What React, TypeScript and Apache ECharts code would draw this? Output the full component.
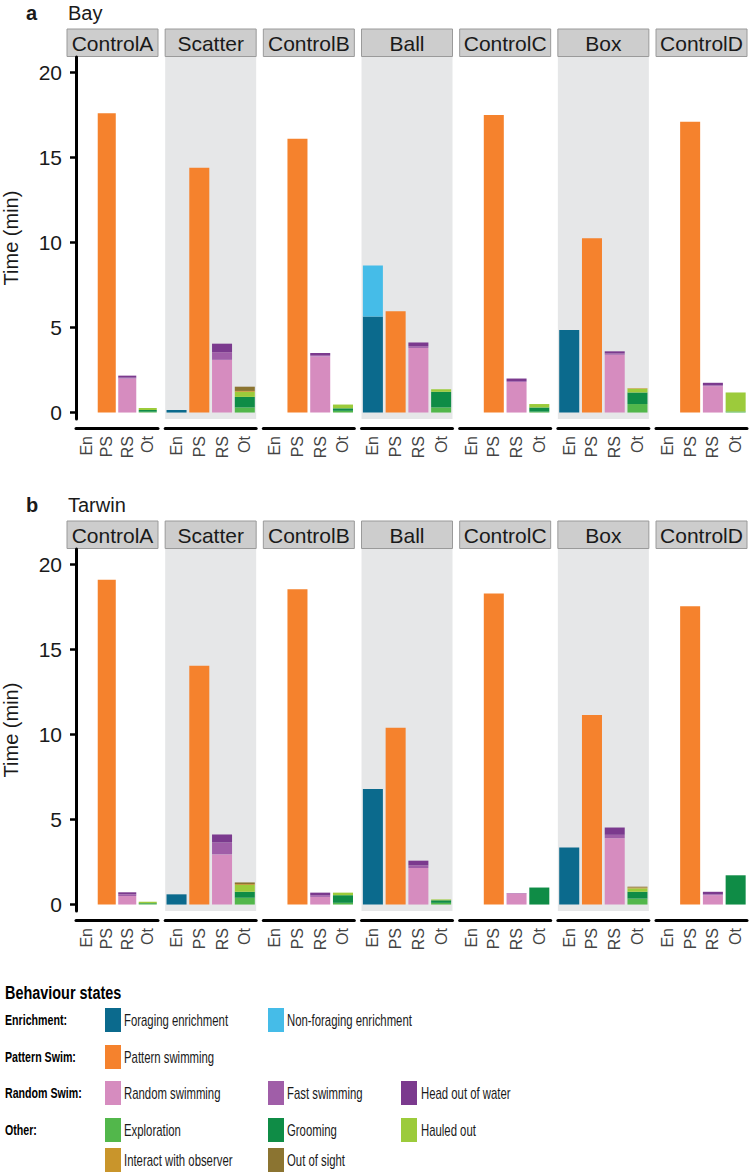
import React, { useEffect, useRef } from "react";
import * as echarts from "echarts";

const conditions = ["ControlA", "Scatter", "ControlB", "Ball", "ControlC", "Box", "ControlD"];
const treatmentPanels = [false, true, false, true, false, true, false];
const categories = ["En", "PS", "RS", "Ot"];
const yTicks = [0, 5, 10, 15, 20];
const rowTags = ["a", "b"];
const rowSites = ["Bay", "Tarwin"];

const stateNames = [
  "Foraging enrichment", "Non-foraging enrichment", "Pattern swimming",
  "Random swimming", "Fast swimming", "Head out of water",
  "Exploration", "Grooming", "Hauled out", "Interact with observer", "Out of sight",
];
const stateColors = [
  "#0b6a8d", "#45bce8", "#f5822d", "#d68cbf", "#a05ea8", "#7b3a8e",
  "#52b74b", "#0f8c46", "#9ccb3b", "#c9952b", "#8b7431",
];
// category index (En, PS, RS, Ot) that each state stacks in
const stateCategory = [0, 0, 1, 2, 2, 2, 3, 3, 3, 3, 3];

// Bay values per condition (ControlA..ControlD)
const bayForaging = [0, 0.15, 0, 5.65, 0, 4.85, 0];
const bayNonForaging = [0, 0, 0, 3.0, 0, 0, 0];
const bayPattern = [17.6, 14.4, 16.1, 5.95, 17.5, 10.25, 17.1];
const bayRandom = [2.0, 3.1, 3.3, 3.8, 1.8, 3.4, 1.55];
const bayFast = [0.05, 0.45, 0.08, 0.1, 0.05, 0.08, 0.05];
const bayHead = [0.12, 0.5, 0.12, 0.22, 0.15, 0.12, 0.15];
const bayExploration = [0.05, 0.3, 0.1, 0.3, 0.05, 0.5, 0.03];
const bayGrooming = [0.1, 0.62, 0.15, 0.92, 0.25, 0.68, 0.03];
const bayHauled = [0.12, 0.3, 0.22, 0.15, 0.2, 0.22, 1.12];
const bayInteract = [0, 0.05, 0, 0, 0, 0.03, 0];
const bayOutOfSight = [0, 0.25, 0, 0, 0, 0, 0];

// Tarwin values per condition
const tarForaging = [0, 0.6, 0, 6.8, 0, 3.35, 0];
const tarNonForaging = [0, 0, 0, 0, 0, 0, 0];
const tarPattern = [19.1, 14.05, 18.55, 10.4, 18.3, 11.15, 17.55];
const tarRandom = [0.5, 2.95, 0.45, 2.15, 0.65, 3.9, 0.55];
const tarFast = [0.1, 0.7, 0.1, 0.15, 0.03, 0.2, 0.05];
const tarHead = [0.12, 0.47, 0.15, 0.28, 0, 0.43, 0.15];
const tarExploration = [0.03, 0.4, 0.1, 0.1, 0, 0.35, 0];
const tarGrooming = [0.05, 0.35, 0.45, 0.15, 1.0, 0.4, 1.72];
const tarHauled = [0.08, 0.4, 0.15, 0.05, 0, 0.2, 0];
const tarInteract = [0, 0.05, 0, 0, 0, 0.05, 0];
const tarOutOfSight = [0, 0.1, 0, 0, 0, 0.05, 0];

const bayData = [bayForaging, bayNonForaging, bayPattern, bayRandom, bayFast, bayHead,
  bayExploration, bayGrooming, bayHauled, bayInteract, bayOutOfSight];
const tarData = [tarForaging, tarNonForaging, tarPattern, tarRandom, tarFast, tarHead,
  tarExploration, tarGrooming, tarHauled, tarInteract, tarOutOfSight];
const rowData = [bayData, tarData];

const legendRowLabels = ["Enrichment:", "Pattern Swim:", "Random Swim:", "Other:", ""];
const legendRowStates = [[0, 1], [2], [3, 4, 5], [6, 7, 8], [9, 10]];

const FONT = "Liberation Sans, Arial, Helvetica, sans-serif";

export default function App() {
  const ref = useRef<HTMLDivElement>(null);
  useEffect(() => {
    document.body.style.margin = "0";
    const chart = echarts.init(ref.current!, null, { renderer: "svg" });

    const PANEL_LEFT = 67;
    const PANEL_PITCH = 98.17;
    const PANEL_W = 91;
    const ROW_OFFSET = 492;
    const PANEL_TOP = 57;
    const PANEL_H = 362;
    const Y_MIN = -0.38;
    const Y_MAX = 20.91;

    const grid: any[] = [];
    const xAxis: any[] = [];
    const yAxis: any[] = [];
    const series: any[] = [];
    const graphic: any[] = [];

    rowData.forEach((data, r) => {
      conditions.forEach((cond, c) => {
        const idx = r * conditions.length + c;
        const left = PANEL_LEFT + c * PANEL_PITCH;
        const top = PANEL_TOP + r * ROW_OFFSET;
        grid.push({
          left, top, width: PANEL_W, height: PANEL_H,
          show: true, borderWidth: 0,
          backgroundColor: treatmentPanels[c] ? "#e6e7e8" : "#ffffff",
        });
        xAxis.push({
          type: "category", gridIndex: idx, data: categories, offset: 9,
          axisLine: { onZero: false, lineStyle: { color: "#000", width: 3 } },
          axisTick: { alignWithLabel: true, interval: 0, length: 5, lineStyle: { color: "#000", width: 3 } },
          axisLabel: { rotate: 90, interval: 0, fontSize: 16, color: "#444", margin: 8, fontFamily: FONT },
          splitLine: { show: false },
        });
        const first = c === 0;
        yAxis.push({
          type: "value", gridIndex: idx, min: Y_MIN, max: Y_MAX,
          show: first,
          name: first ? "Time (min)" : "",
          nameLocation: "middle", nameGap: 55,
          nameTextStyle: { fontSize: 20, color: "#1a1a1a", fontFamily: FONT },
          axisLine: { show: true, onZero: false, lineStyle: { color: "#000", width: 3 } },
          axisTick: { show: true, length: 6, customValues: yTicks, lineStyle: { color: "#000", width: 2.5 } },
          axisLabel: {
            customValues: yTicks, fontSize: 21, color: "#1a1a1a", margin: 14, fontFamily: FONT,
            formatter: (v: number) => (yTicks.indexOf(Math.round(v * 1000) / 1000) >= 0 ? String(v) : ""),
          },
          splitLine: { show: false },
        });
        stateNames.forEach((name, s) => {
          const v = data[s][c];
          series.push({
            type: "bar", name, xAxisIndex: idx, yAxisIndex: idx, stack: "g" + idx,
            barWidth: "88%", silent: true,
            itemStyle: { color: stateColors[s] },
            data: categories.map((_, k) => (k === stateCategory[s] ? v : "-")),
          });
        });
        // strip
        graphic.push({
          type: "rect", silent: true,
          shape: { x: left, y: 29 + r * ROW_OFFSET, width: PANEL_W, height: 27.5 },
          style: { fill: "#cdcdcd", stroke: "#9a9a9a", lineWidth: 1 },
        });
        graphic.push({
          type: "text", silent: true,
          x: left + PANEL_W / 2, y: 43 + r * ROW_OFFSET,
          style: { text: cond, fontSize: 21, fill: "#1a1a1a", fontFamily: FONT, textAlign: "center", textVerticalAlign: "middle" },
        });
      });
      graphic.push({
        type: "text", silent: true, x: 26, y: 13 + r * ROW_OFFSET,
        style: { text: rowTags[r], fontSize: 20, fontWeight: "bold", fill: "#1a1a1a", fontFamily: FONT, textVerticalAlign: "middle" },
      });
      graphic.push({
        type: "text", silent: true, x: 68, y: 13 + r * ROW_OFFSET,
        style: { text: rowSites[r], fontSize: 20, fill: "#1a1a1a", fontFamily: FONT, textVerticalAlign: "middle" },
      });
    });

    // legend
    graphic.push({
      type: "text", silent: true, x: 5, y: 993, scaleX: 0.76,
      style: { text: "Behaviour states", fontSize: 19, fontWeight: "bold", fill: "#000", fontFamily: FONT, textVerticalAlign: "middle" },
    });
    const swatchTops = [1008, 1045, 1081, 1118, 1148];
    const swatchX = [105, 268, 401];
    const textX = [124, 287, 421];
    legendRowStates.forEach((states, ri) => {
      const yc = swatchTops[ri] + 12;
      if (legendRowLabels[ri]) {
        graphic.push({
          type: "text", silent: true, x: 5, y: yc, scaleX: 0.76,
          style: { text: legendRowLabels[ri], fontSize: 14, fontWeight: "bold", fill: "#000", fontFamily: FONT, textVerticalAlign: "middle" },
        });
      }
      states.forEach((s, ci) => {
        graphic.push({
          type: "rect", silent: true,
          shape: { x: swatchX[ci], y: swatchTops[ri], width: 16, height: 24 },
          style: { fill: stateColors[s] },
        });
        graphic.push({
          type: "text", silent: true, x: textX[ci], y: yc, scaleX: 0.71,
          style: { text: stateNames[s], fontSize: 16, fill: "#1a1a1a", fontFamily: FONT, textVerticalAlign: "middle" },
        });
      });
    });

    chart.setOption({
      animation: false,
      textStyle: { fontFamily: FONT },
      grid, xAxis, yAxis, series, graphic,
    });
    return () => chart.dispose();
  }, []);
  return <div ref={ref} style={{ width: 750, height: 1174 }} />;
}
